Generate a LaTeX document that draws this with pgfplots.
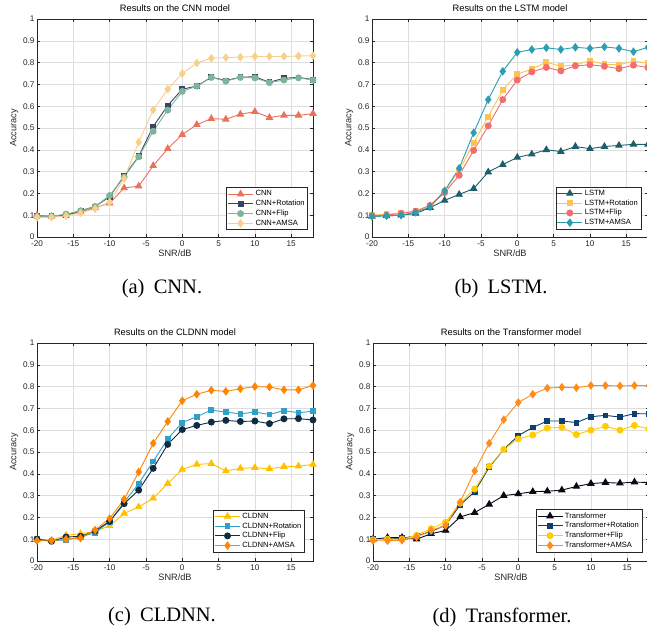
\documentclass[border=0pt]{standalone}
\usepackage{fontspec}
\setmainfont{Liberation Sans}
\newfontfamily\capfont{Liberation Serif}
\usepackage{pgfplots}
\usepackage{pgfplotstable}
\pgfplotsset{compat=1.18}

% colours picked off the reference
\definecolor{aCNN}{HTML}{E8735A}
\definecolor{aRot}{HTML}{3C4264}
\definecolor{aFlip}{HTML}{7DB59B}
\definecolor{aAMSA}{HTML}{F7D08C}
\definecolor{bLSTM}{HTML}{1C5F69}
\definecolor{bRot}{HTML}{FFC34F}
\definecolor{bFlip}{HTML}{F26D6D}
\definecolor{bAMSA}{HTML}{2C9DB2}
\definecolor{cCL}{HTML}{FFC000}
\definecolor{cRot}{HTML}{2FA0C8}
\definecolor{cFlip}{HTML}{0E2C44}
\definecolor{cAMSA}{HTML}{FF8400}
\definecolor{dTr}{HTML}{0A0A14}
\definecolor{dRot}{HTML}{0F3F6E}
\definecolor{dFlip}{HTML}{FFCC00}
\definecolor{dAMSA}{HTML}{FF8C1A}
\definecolor{axgray}{HTML}{262626}

\pgfplotstableread{
snr  base   rot    flip   amsa
-20  0.100  0.095  0.095  0.090
-18  0.095  0.095  0.095  0.090
-16  0.100  0.100  0.105  0.097
-14  0.115  0.120  0.120  0.110
-12  0.135  0.140  0.140  0.130
-10  0.155  0.185  0.190  0.160
-8   0.225  0.280  0.275  0.268
-6   0.233  0.370  0.368  0.435
-4   0.327  0.507  0.485  0.583
-2   0.405  0.603  0.582  0.678
0    0.470  0.678  0.668  0.750
2    0.515  0.692  0.692  0.798
4    0.543  0.733  0.732  0.820
6    0.540  0.718  0.715  0.823
8    0.563  0.733  0.732  0.825
10   0.575  0.735  0.730  0.828
12   0.548  0.710  0.708  0.828
14   0.558  0.728  0.720  0.828
16   0.558  0.732  0.730  0.830
18   0.566  0.722  0.720  0.832
}\cnn

\pgfplotstableread{
snr  base   rot    flip   amsa
-20  0.095  0.100  0.098  0.095
-18  0.097  0.105  0.100  0.097
-16  0.100  0.110  0.108  0.100
-14  0.108  0.120  0.118  0.113
-12  0.135  0.145  0.145  0.138
-10  0.168  0.210  0.203  0.212
-8   0.195  0.305  0.283  0.315
-6   0.222  0.432  0.397  0.478
-4   0.298  0.552  0.510  0.630
-2   0.332  0.675  0.630  0.760
0    0.365  0.747  0.720  0.847
2    0.380  0.770  0.757  0.860
4    0.400  0.802  0.778  0.868
6    0.392  0.783  0.762  0.860
8    0.415  0.790  0.785  0.870
10   0.405  0.808  0.790  0.865
12   0.415  0.792  0.783  0.872
14   0.420  0.790  0.772  0.865
16   0.425  0.807  0.788  0.850
18   0.425  0.797  0.777  0.870
}\lstm

\pgfplotstableread{
snr  base   rot    flip   amsa
-20  0.098  0.100  0.100  0.093
-18  0.095  0.093  0.090  0.093
-16  0.118  0.097  0.110  0.100
-14  0.125  0.110  0.113  0.105
-12  0.135  0.130  0.138  0.142
-10  0.162  0.180  0.182  0.195
-8   0.218  0.270  0.263  0.283
-6   0.248  0.355  0.325  0.408
-4   0.288  0.457  0.425  0.540
-2   0.355  0.560  0.535  0.640
0    0.420  0.635  0.603  0.735
2    0.443  0.662  0.622  0.765
4    0.447  0.692  0.637  0.783
6    0.413  0.683  0.645  0.778
8    0.425  0.675  0.640  0.790
10   0.428  0.683  0.642  0.800
12   0.423  0.672  0.630  0.798
14   0.433  0.690  0.652  0.785
16   0.435  0.680  0.653  0.785
18   0.443  0.687  0.647  0.805
}\cldnn

\pgfplotstableread{
snr  base   rot    flip   amsa
-20  0.100  0.100  0.097  0.093
-18  0.107  0.100  0.100  0.093
-16  0.108  0.105  0.100  0.095
-14  0.100  0.115  0.118  0.110
-12  0.125  0.135  0.148  0.140
-10  0.140  0.165  0.178  0.163
-8   0.202  0.257  0.265  0.270
-6   0.222  0.318  0.330  0.413
-4   0.260  0.430  0.435  0.540
-2   0.300  0.512  0.512  0.648
0    0.308  0.575  0.560  0.727
2    0.318  0.613  0.578  0.765
4    0.320  0.642  0.610  0.793
6    0.325  0.642  0.613  0.797
8    0.342  0.635  0.580  0.795
10   0.355  0.662  0.600  0.805
12   0.360  0.668  0.618  0.805
14   0.357  0.660  0.600  0.803
16   0.362  0.676  0.622  0.805
18   0.360  0.675  0.605  0.805
}\trans

\pgfplotsset{
  panel/.style={
    scale only axis, width=276pt, height=218pt,
    anchor=south west,
    xmin=-20, xmax=18, ymin=0, ymax=1,
    xtick={-20,-15,...,15}, xticklabels={-20,-15,-10,-5,0,5,10,15},
    ytick={0,0.1,...,1.01},
    yticklabels={0,0.1,0.2,0.3,0.4,0.5,0.6,0.7,0.8,0.9,1},
    tick pos=both, tick align=inside, major tick length=3pt,
    axis line style={axgray, line width=0.6pt},
    tick style={axgray, line width=0.5pt},
    grid=major, grid style={black!13, line width=0.5pt},
    ticklabel style={font=\fontsize{8.2}{9}\selectfont, text=axgray},
    xticklabel style={yshift=-0.5pt},
    yticklabel style={xshift=1pt},
    xlabel={SNR/dB}, ylabel={Accuracy},
    label style={font=\fontsize{9.2}{10}\selectfont, text=axgray},
    xlabel style={yshift=3.5pt},
    ylabel style={yshift=-2pt},
    title style={font=\fontsize{9.3}{10}\selectfont, yshift=-2.5pt},
    legend cell align=left,
    legend style={font=\fontsize{7.6}{9}\selectfont, draw=axgray,
      line width=0.6pt, inner sep=1pt, row sep=-1.2pt,
      at={(0.975,0.035)}, anchor=south east},
    legend image code/.code={
      \draw[mark repeat=2,mark phase=2] plot coordinates {(0pt,0pt)(12.5pt,0pt)(25pt,0pt)};},
    every axis plot/.append style={line width=0.9pt},
  },
  ptri/.style={color=#1, mark=triangle*, mark size=3.6pt, mark options={solid, fill=#1}},
  psq/.style={color=#1, mark=square*, mark size=2.4pt, mark options={solid, fill=#1}},
  pcirc/.style={color=#1, mark=*, mark size=3pt, mark options={solid, fill=#1}},
  pdia/.style={color=#1, mark=diamond*, mark size=3.6pt, mark options={solid, fill=#1}},
}

\begin{document}
\begin{tikzpicture}
\useasboundingbox (0pt,0pt) rectangle (647pt,628pt);

\begin{axis}[panel, at={(37pt,391pt)}, title={Results on the CNN model},
  legend style={at={(0.982,0.032)}}]
\addplot[ptri=aCNN] table[x=snr,y=base] {\cnn};
\addplot[psq=aRot] table[x=snr,y=rot] {\cnn};
\addplot[pcirc=aFlip] table[x=snr,y=flip] {\cnn};
\addplot[pdia=aAMSA] table[x=snr,y=amsa] {\cnn};
\legend{CNN, CNN+Rotation, CNN+Flip, CNN+AMSA}
\end{axis}

\begin{axis}[panel, at={(372pt,391pt)}, title={Results on the LSTM model}]
\addplot[ptri=bLSTM] table[x=snr,y=base] {\lstm};
\addplot[psq=bRot] table[x=snr,y=rot] {\lstm};
\addplot[pcirc=bFlip] table[x=snr,y=flip] {\lstm};
\addplot[pdia=bAMSA] table[x=snr,y=amsa] {\lstm};
\legend{LSTM, LSTM+Rotation, LSTM+Flip, LSTM+AMSA}
\end{axis}

\begin{axis}[panel, at={(37pt,67pt)}, title={Results on the CLDNN model},
  legend style={at={(0.97,0.04)}}]
\addplot[ptri=cCL] table[x=snr,y=base] {\cldnn};
\addplot[psq=cRot] table[x=snr,y=rot] {\cldnn};
\addplot[pcirc=cFlip] table[x=snr,y=flip] {\cldnn};
\addplot[pdia=cAMSA] table[x=snr,y=amsa] {\cldnn};
\legend{CLDNN, CLDNN+Rotation, CLDNN+Flip, CLDNN+AMSA}
\end{axis}

\begin{axis}[panel, at={(373pt,67pt)}, title={Results on the Transformer model},
  legend style={at={(0.975,0.04)}}]
\addplot[ptri=dTr] table[x=snr,y=base] {\trans};
\addplot[psq=dRot] table[x=snr,y=rot] {\trans};
\addplot[pcirc=dFlip] table[x=snr,y=flip] {\trans};
\addplot[pdia=dAMSA] table[x=snr,y=amsa] {\trans};
\legend{Transformer, Transformer+Rotation, Transformer+Flip, Transformer+AMSA}
\end{axis}

\node[font=\capfont\fontsize{20.5}{23}\selectfont] at (162pt,339pt) {(a)\hspace{0.45em}CNN.};
\node[font=\capfont\fontsize{20.5}{23}\selectfont] at (501pt,339pt) {(b)\hspace{0.45em}LSTM.};
\node[font=\capfont\fontsize{20.5}{23}\selectfont] at (162pt,11pt) {(c)\hspace{0.45em}CLDNN.};
\node[font=\capfont\fontsize{20.5}{23}\selectfont] at (502pt,11pt) {(d)\hspace{0.45em}Transformer.};
\end{tikzpicture}
\end{document}
